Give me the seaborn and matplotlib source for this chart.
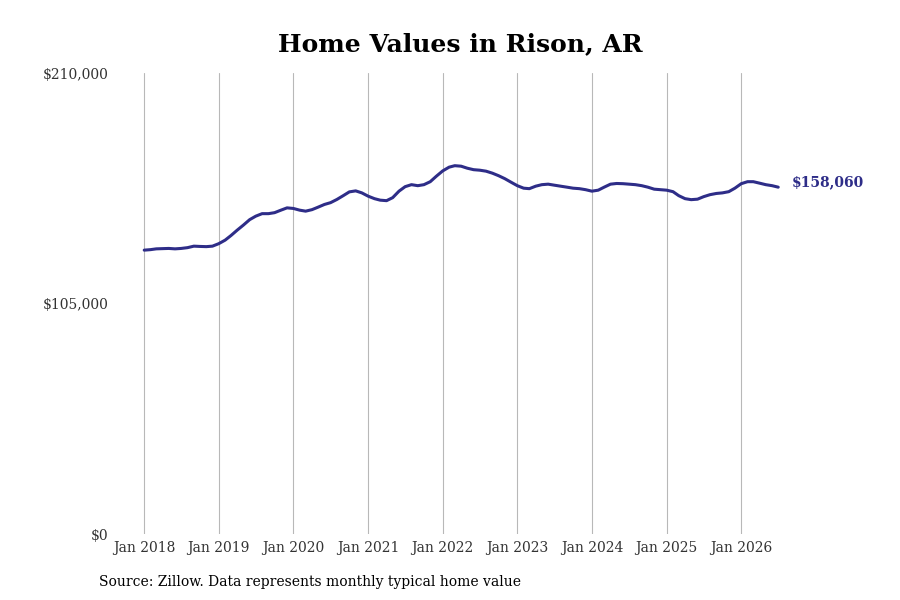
import numpy as np
import pandas as pd
import matplotlib
matplotlib.use("Agg")
import matplotlib.pyplot as plt
import matplotlib.dates as mdates
import seaborn as sns

# monthly typical home value, Jan 2018 - Jul 2026
values = [
    129360, 129590, 129950, 130050, 130140, 129950, 130140, 130500, 131180, 131050, 130960, 131180,
    132320, 133920, 135970, 138470, 140750, 143250, 144850, 145990, 145990, 146440, 147580, 148630,
    148360, 147580, 147130, 147810, 148950, 150180, 151000, 152460, 154190, 155920, 156370, 155460,
    153960, 152820, 152140, 151910, 153280, 156240, 158290, 159200, 158740, 159200, 160560, 163070,
    165480, 167170, 167850, 167620, 166710, 166030, 165800, 165350, 164440, 163300, 161930, 160340,
    158740, 157600, 157380, 158510, 159200, 159430, 158970, 158510, 158060, 157600, 157380, 156920,
    156240, 156690, 158060, 159430, 159740, 159650, 159430, 159200, 158740, 158060, 157150, 156920,
    156690, 156010, 154190, 152820, 152370, 152590, 153730, 154640, 155190, 155460, 156010, 157600,
    159650, 160560, 160560, 159880, 159200, 158740, 158060,
]
start_month = "2018-01-01"
y_ticks = [0, 105000, 210000]
y_labels = ["$0", "$105,000", "$210,000"]
title = "Home Values in Rison, AR"
source = "Source: Zillow. Data represents monthly typical home value"
line_color = "#2e2d88"

df = pd.DataFrame({
    "date": pd.date_range(start_month, periods=len(values), freq="MS"),
    "value": values,
})

sns.set_theme(style="white")
plt.rcParams["font.family"] = ["DejaVu Serif"]

fig = plt.figure(figsize=(9, 6), dpi=100)
ax = fig.add_axes([0.128, 0.11, 0.75, 0.768])

sns.lineplot(data=df, x="date", y="value", ax=ax, color=line_color, linewidth=2.2)

ax.set_ylim(0, 210000)
ax.set_yticks(y_ticks)
ax.set_yticklabels(y_labels)

x0 = df["date"].iloc[0]
span = pd.Timestamp("2026-01-01") - x0
ax.set_xlim(x0 - span * 0.0486, x0 + span * 1.082)
ax.xaxis.set_major_locator(mdates.YearLocator(month=1, day=1))
ax.xaxis.set_major_formatter(mdates.DateFormatter("%b %Y"))

for s in ax.spines.values():
    s.set_visible(False)
ax.grid(axis="x", color="#b8b8b8", linewidth=0.8)
ax.grid(axis="y", visible=False)
ax.tick_params(axis="x", length=0, labelsize=10, labelcolor="#333333", pad=5)
ax.tick_params(axis="y", length=0, labelsize=10, labelcolor="#333333", pad=5)
ax.set_xlabel("")
ax.set_ylabel("")

last = df.iloc[-1]
ax.annotate(f"${values[-1]:,}", xy=(last["date"], last["value"]), xytext=(10, 3.5),
            textcoords="offset points", va="center", ha="left",
            fontsize=10, fontweight="bold", color=line_color)

fig.text(0.512, 0.926, title, ha="center", va="center", fontsize=18, fontweight="bold", color="black")
fig.text(0.11, 0.03, source, ha="left", va="center", fontsize=10, color="black")

fig.savefig("out.png", dpi=100)
